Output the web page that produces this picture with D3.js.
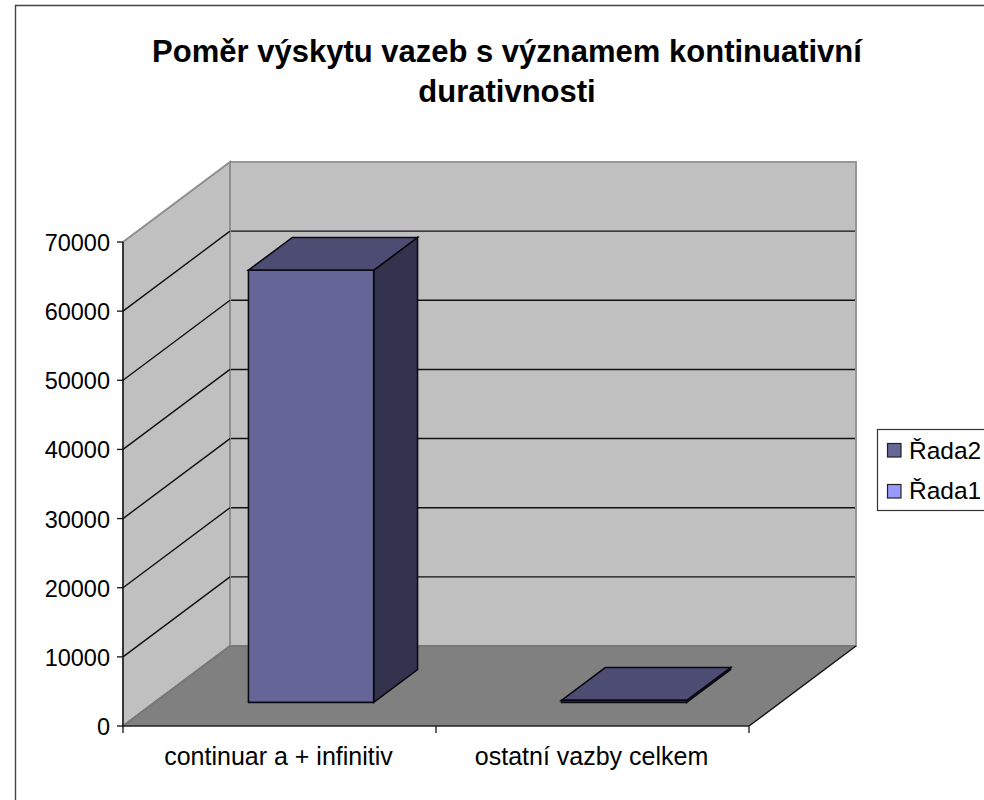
<!DOCTYPE html>
<html><head><meta charset="utf-8">
<style>html,body{margin:0;padding:0;background:#fff}svg{display:block}text{font-family:"Liberation Sans",Arial,sans-serif;fill:#000}</style>
<script src="https://cdn.jsdelivr.net/npm/d3@7"></script></head>
<body><script>
const titleLines = ["Poměr výskytu vazeb s významem kontinuativní", "durativnosti"];
const categories = ["continuar a + infinitiv", "ostatní vazby celkem"];
const rada2Values = [62500, 300];
const yTicks = [0, 10000, 20000, 30000, 40000, 50000, 60000, 70000];
const legendNames = ["Řada2", "Řada1"];
const legendColors = ["#666699", "#9999ff"];

const svg = d3.select("body").append("svg").attr("width", 984).attr("height", 800);
const y = d3.scaleLinear().domain([0, 70000]).range([726, 242]);
const x = d3.scaleBand().domain(categories).range([123, 749]).paddingInner(0).paddingOuter(0);
const depthX = d3.scaleLinear().domain([0, 1]).range([0, 107]);
const depthY = d3.scaleLinear().domain([0, 1]).range([0, -80]);
const P = (px, v, d) => [px + depthX(d), y(v) + depthY(d)];
const line = d3.line();
const poly = (pts, fill, stroke, sw) => svg.append("path").attr("d", line(pts) + "Z")
  .attr("fill", fill).attr("stroke", stroke || "none").attr("stroke-width", sw || 0).attr("stroke-linejoin", "miter");
const seg = (a, b, stroke, sw) => svg.append("line").attr("x1", a[0]).attr("y1", a[1]).attr("x2", b[0]).attr("y2", b[1])
  .attr("stroke", stroke).attr("stroke-width", sw);

// frame
svg.append("path").attr("d", "M15.5,800V5.5H984").attr("fill", "none").attr("stroke", "#444").attr("stroke-width", 1.4);

// title
svg.append("g").selectAll("text").data(titleLines).join("text")
  .attr("x", 507).attr("y", (d, i) => 62 + i * 39.5).attr("text-anchor", "middle")
  .attr("font-size", 31).attr("font-weight", "bold").text(d => d);

const xL = x.range()[0], xR = x.range()[1], vMax = y.domain()[1];
// walls and floor
poly([P(xL, 0, 1), P(xR, 0, 1), P(xR, vMax, 1), P(xL, vMax, 1)], "#c0c0c0", "#969696", 2);
poly([P(xL, 0, 0), P(xL, 0, 1), P(xL, vMax, 1), P(xL, vMax, 0)], "#c0c0c0", "#8f8f8f", 2);
poly([P(xL, 0, 0), P(xR, 0, 0), P(xR, 0, 1), P(xL, 0, 1)], "#808080");
seg(P(xL, 0, 1), P(xR, 0, 1), "#777", 2);
seg(P(xL, 0, 0), P(xL, 0, 1), "#777", 2);

// gridlines
yTicks.filter(t => t > 0 && t < vMax).forEach(t => {
  seg(P(xL, t, 0), P(xL, t, 1), "#111", 1.4);
  seg(P(xL + 1, t, 1), P(xR - 1, t, 1), "#111", 1.4);
});

// bars
const barW = 0.4;
const d0 = 0.295, d1 = 0.705;
categories.forEach((c, i) => {
  const v = rada2Values[i];
  const bw = x.bandwidth() * barW;
  const a = x(c) + (x.bandwidth() - bw) / 2, b = a + bw;
  const st = "#0a0a14", sw = 1.6;
  poly([P(b, 0, d0), P(b, 0, d1), P(b, v, d1), P(b, v, d0)], "#33334d", st, sw);
  poly([P(a, v, d0), P(b, v, d0), P(b, v, d1), P(a, v, d1)], "#4d4d73", st, sw);
  poly([P(a, 0, d0), P(b, 0, d0), P(b, v, d0), P(a, v, d0)], "#666699", st, sw);
});

// axes
seg([xL, 242], [xL, 726], "#111", 1.4);
seg(P(xL, 0, 0), P(xR, 0, 0), "#222", 1.6);
seg(P(xR, 0, 0), P(xR, 0, 1), "#111", 1.4);
yTicks.forEach(t => {
  seg([xL - 6, y(t)], [xL, y(t)], "#111", 1.3);
  svg.append("text").attr("x", 110).attr("y", y(t) + 9).attr("text-anchor", "end")
    .attr("font-size", 23.5).text(d3.format("d")(t));
});
[xL, x(categories[1]), xR].forEach(px => seg([px, 726], [px, 733], "#111", 1.3));
categories.forEach(c => svg.append("text").attr("x", x(c) + x.bandwidth() / 2 - 1).attr("y", 765)
  .attr("text-anchor", "middle").attr("font-size", 25).text(c));

// legend
svg.append("rect").attr("x", 877.5).attr("y", 429.5).attr("width", 110).attr("height", 81)
  .attr("fill", "#fff").attr("stroke", "#333").attr("stroke-width", 1.2);
legendNames.forEach((n, i) => {
  svg.append("rect").attr("x", 887.5).attr("y", 443.5 + i * 41).attr("width", 13.5).attr("height", 13.5)
    .attr("fill", legendColors[i]).attr("stroke", "#222").attr("stroke-width", 1.2);
  svg.append("text").attr("x", 909).attr("y", 459 + i * 40).attr("font-size", 24.5).text(n);
});
</script></body></html>
